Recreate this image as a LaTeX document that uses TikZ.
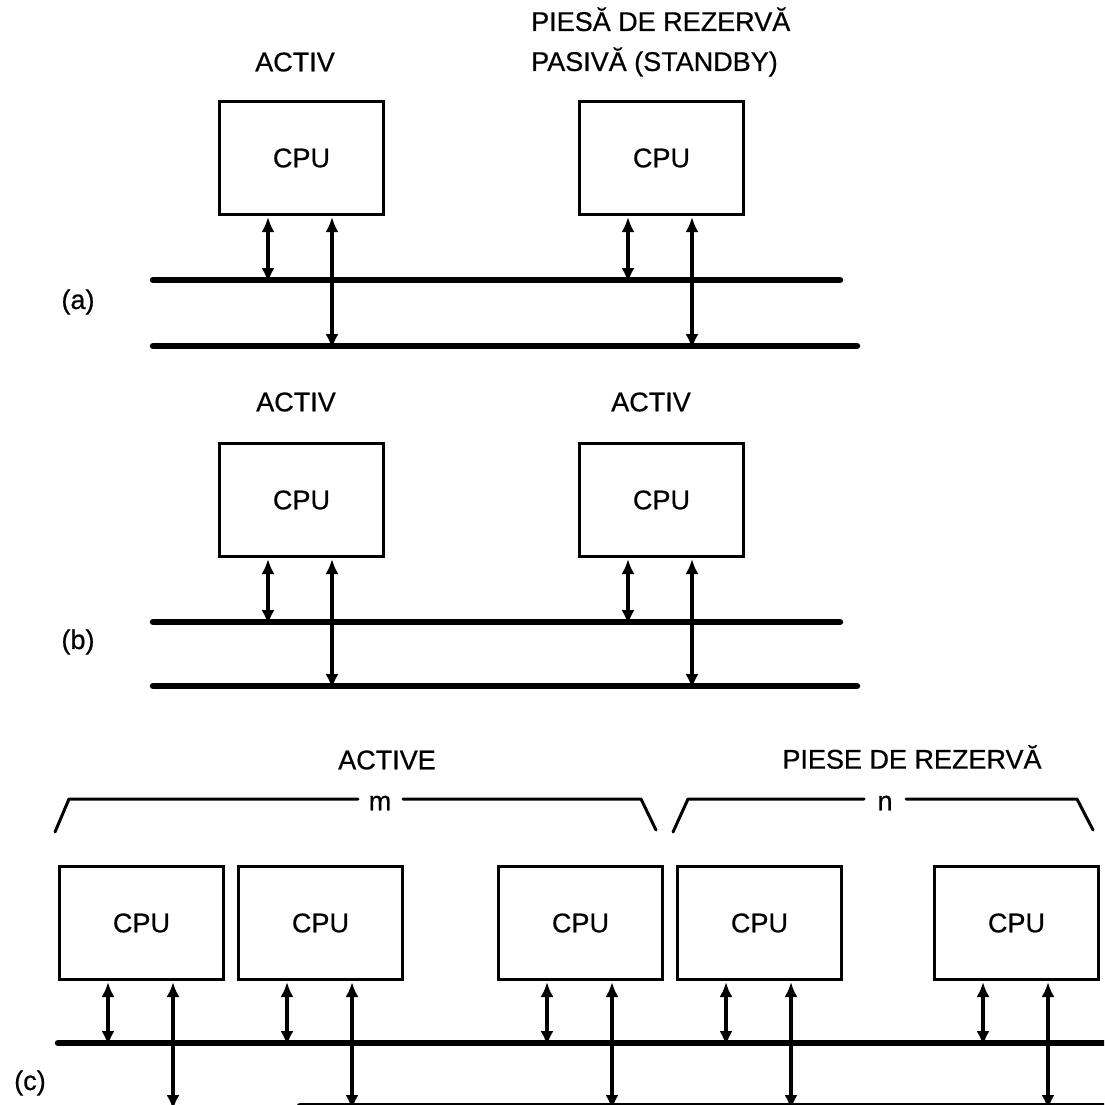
\documentclass[tikz,border=0pt]{standalone}
\usepackage{fontspec}
\setmainfont[FakeBold=0.6]{Liberation Sans}
\usetikzlibrary{arrows.meta,calc}
\begin{document}
\begin{tikzpicture}[x=1pt,y=-1pt,
  txt/.style={font=\fontsize{27}{32}\selectfont},
  cpubox/.style={draw,line width=3pt,minimum width=164pt,minimum height=113pt,
    anchor=north west,inner sep=0pt,txt},
  bus/.style={line width=6.5pt,line cap=round},
  bi/.style={line width=3.4pt,
    {Latex[length=15pt,width=13pt]}-{Latex[length=15pt,width=13pt]}},
  lbl/.style={txt,inner sep=0pt},
  brace/.style={line width=3pt,line join=round,line cap=round},
]
\useasboundingbox (0,0) rectangle (1104,1105);
\clip (0,0) rectangle (1104,1105);

% ---------- (a) one active CPU, one passive standby ----------
\node[lbl] (labActA) at (295,62) {ACTIV};
\node[lbl,align=left,anchor=west,font=\fontsize{27}{40}\selectfont] (labStby) at (531,42)
  {PIESĂ DE REZERVĂ\\PASIVĂ (STANDBY)};
\node[lbl] (tagA) at (78,302) {(a)};
\node[cpubox] (cpuA1) at (218,100) {CPU};
\node[cpubox] (cpuA2) at (578,100) {CPU};
\coordinate (busA1w) at (153,280);
\coordinate (busA1e) at (840,280);
\coordinate (busA2w) at (153,346);
\coordinate (busA2e) at (857,346);
\draw[bus] (busA1w) -- (busA1e);
\draw[bus] (busA2w) -- (busA2e);
\foreach \b in {cpuA1,cpuA2}{
  \draw[bi] ([xshift=50pt,yshift=-1pt]\b.south west) -- ([xshift=50pt,yshift=-3pt]\b.south west |- busA1w);
  \draw[bi] ([xshift=114pt,yshift=-1pt]\b.south west) -- ([xshift=114pt,yshift=-3pt]\b.south west |- busA2w);
}

% ---------- (b) two active CPUs ----------
\node[lbl] (labActB1) at (296,402) {ACTIV};
\node[lbl] (labActB2) at (651,402) {ACTIV};
\node[lbl] (tagB) at (78,642) {(b)};
\node[cpubox] (cpuB1) at (218,442) {CPU};
\node[cpubox] (cpuB2) at (578,442) {CPU};
\coordinate (busB1w) at (153,622);
\coordinate (busB1e) at (840,622);
\coordinate (busB2w) at (153,686);
\coordinate (busB2e) at (857,686);
\draw[bus] (busB1w) -- (busB1e);
\draw[bus] (busB2w) -- (busB2e);
\foreach \b in {cpuB1,cpuB2}{
  \draw[bi] ([xshift=50pt,yshift=-1pt]\b.south west) -- ([xshift=50pt,yshift=-3pt]\b.south west |- busB1w);
  \draw[bi] ([xshift=114pt,yshift=-1pt]\b.south west) -- ([xshift=114pt,yshift=-3pt]\b.south west |- busB2w);
}

% ---------- (c) m active CPUs and n spares ----------
\node[lbl] (labActive) at (387,760) {ACTIVE};
\node[lbl] (labSpares) at (912,757) {PIESE DE REZERVĂ};
\node[lbl] (tagC) at (30,1083) {(c)};
\node[lbl] (labM) at (380,803) {m};
\node[lbl] (labN) at (885,803) {n};
\draw[brace] (55,832) -- (69,799) -- (358,799);
\draw[brace] (403,799) -- (641,799) -- (656,830);
\draw[brace] (673,832) -- (688,799) -- (864,799);
\draw[brace] (906,799) -- (1077,799) -- (1093,830);

\node[cpubox] (cpuC1) at (58,865) {CPU};
\node[cpubox] (cpuC2) at (237,865) {CPU};
\node[cpubox] (cpuC3) at (497,865) {CPU};
\node[cpubox] (cpuC4) at (676,865) {CPU};
\node[cpubox] (cpuC5) at (933,865) {CPU};
\coordinate (busC1w) at (58,1043);
\coordinate (busC1e) at (1112,1043);
\coordinate (busC2w) at (300,1106);
\coordinate (busC2e) at (1112,1106);
\draw[bus] (busC1w) -- (busC1e);
\draw[bus] (busC2w) -- (busC2e);
\foreach \b in {cpuC1,cpuC2,cpuC3,cpuC4,cpuC5}{
  \draw[bi] ([xshift=50pt,yshift=-1pt]\b.south west) -- ([xshift=50pt,yshift=-3pt]\b.south west |- busC1w);
  \draw[bi] ([xshift=115pt,yshift=-1pt]\b.south west) -- ([xshift=115pt,yshift=-4pt]\b.south west |- busC2w);
}
\end{tikzpicture}
\end{document}
